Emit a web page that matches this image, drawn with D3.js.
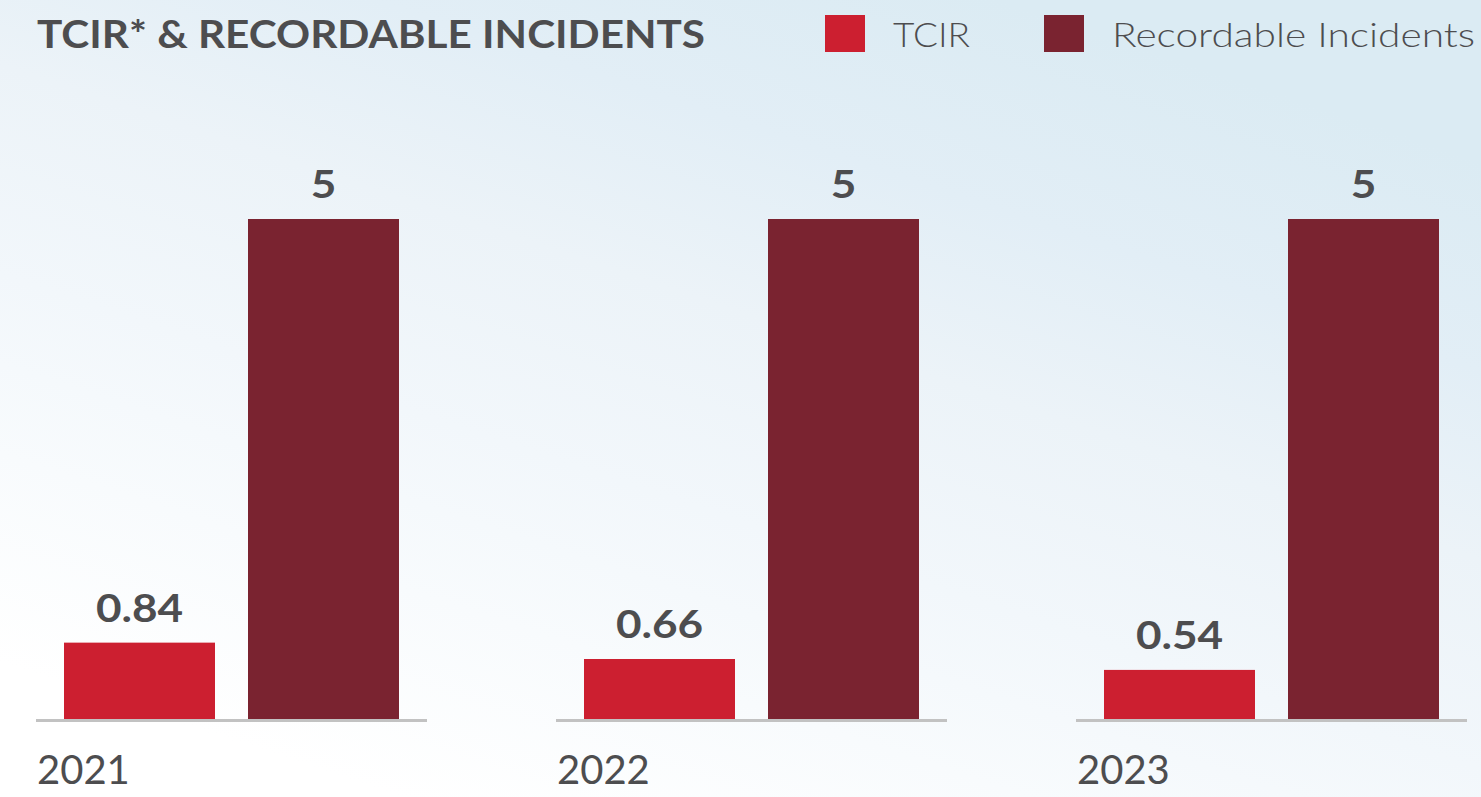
<!DOCTYPE html>
<html>
<head>
<meta charset="utf-8">
<script src="https://cdn.jsdelivr.net/npm/d3@7"></script>
<style>
  html, body { margin: 0; padding: 0; overflow: hidden; }
  svg { display: block; }
  text { font-family: "Lato", "Open Sans", sans-serif; }
</style>
</head>
<body>
<script>
const years = ["2021", "2022", "2023"];
const seriesNames = ["TCIR", "Recordable Incidents"];
const tcir = [0.84, 0.66, 0.54];
const recordable = [5, 5, 5];
const tcirLabels = ["0.84", "0.66", "0.54"];
const recordableLabels = ["5", "5", "5"];
const title = "TCIR* & RECORDABLE INCIDENTS";

const W = 1481, H = 797;
const colors = { "TCIR": "#cc1f30", "Recordable Incidents": "#7a2330" };
const textColor = "#4d4d4f";

const svg = d3.select("body").append("svg").attr("width", W).attr("height", H);

// background gradient
const defs = svg.append("defs");
const lg = defs.append("linearGradient").attr("id", "bg")
  .attr("gradientUnits", "userSpaceOnUse")
  .attr("x1", 400).attr("y1", 797).attr("x2", 700).attr("y2", -100);
[[0, "#ffffff"], [0.21, "#f8fbfd"], [0.39, "#f2f7fb"], [0.6, "#ecf3f8"], [0.79, "#e2eef6"], [1.06, "#dbebf3"]]
  .forEach(([o, c]) => lg.append("stop").attr("offset", Math.min(o, 1)).attr("stop-color", c));
svg.append("rect").attr("width", W).attr("height", H).attr("fill", "url(#bg)");

const baseY = 719;
const x0 = d3.scaleBand().domain(years).range([36, 1467]).paddingInner(129 / 520);
const x1 = d3.scaleBand().domain(seriesNames).range([28, 363]).paddingInner(33 / 184);
const yRec = d3.scaleLinear().domain([0, 5]).range([baseY, 219]);
const yTcir = d3.scaleLinear().domain([0, 5.5]).range([baseY, 219]);

const data = years.map((y, i) => ({
  year: y,
  bars: [
    { s: "TCIR", v: tcir[i], label: tcirLabels[i], y: yTcir },
    { s: "Recordable Incidents", v: recordable[i], label: recordableLabels[i], y: yRec }
  ]
}));

const g = svg.selectAll("g.grp").data(data).join("g")
  .attr("class", "grp")
  .attr("transform", d => `translate(${x0(d.year)},0)`);

g.selectAll("rect.bar").data(d => d.bars).join("rect")
  .attr("class", "bar")
  .attr("x", b => x1(b.s))
  .attr("width", x1.bandwidth())
  .attr("y", b => b.y(b.v))
  .attr("height", b => baseY - b.y(b.v))
  .attr("fill", b => colors[b.s]);

g.selectAll("text.val").data(d => d.bars).join("text")
  .attr("class", "val")
  .attr("x", b => x1(b.s) + x1.bandwidth() / 2)
  .attr("y", b => b.y(b.v) - 21)
  .attr("text-anchor", "middle")
  .attr("font-size", 38)
  .attr("font-weight", 700)
  .attr("fill", textColor)
  .text(b => b.label)
  .each(function () {
    const w = this.getComputedTextLength();
    d3.select(this).attr("textLength", w * 1.16).attr("lengthAdjust", "spacingAndGlyphs");
  });

g.append("line")
  .attr("x1", 0).attr("x2", x0.bandwidth())
  .attr("y1", baseY + 1.5).attr("y2", baseY + 1.5)
  .attr("stroke", "#c2c2c2").attr("stroke-width", 3);

g.append("text")
  .attr("x", 1).attr("y", 784)
  .attr("font-size", 40)
  .attr("fill", textColor)
  .text(d => d.year);

// title
svg.append("text")
  .attr("x", 37).attr("y", 48)
  .attr("font-size", 38).attr("font-weight", 700)
  .attr("fill", textColor)
  .attr("textLength", 668).attr("lengthAdjust", "spacingAndGlyphs")
  .text(title);

// legend
const legendX = [825, 1044];
const legendTextW = [77, 363];
seriesNames.forEach((s, i) => {
  svg.append("rect").attr("x", legendX[i]).attr("y", 15).attr("width", 40).attr("height", 37)
    .attr("fill", colors[s]);
  svg.append("text").attr("x", legendX[i] + 68).attr("y", 47)
    .attr("font-size", 33).attr("font-weight", 300)
    .attr("fill", textColor)
    .attr("textLength", legendTextW[i]).attr("lengthAdjust", "spacingAndGlyphs")
    .text(s);
});
</script>
</body>
</html>
